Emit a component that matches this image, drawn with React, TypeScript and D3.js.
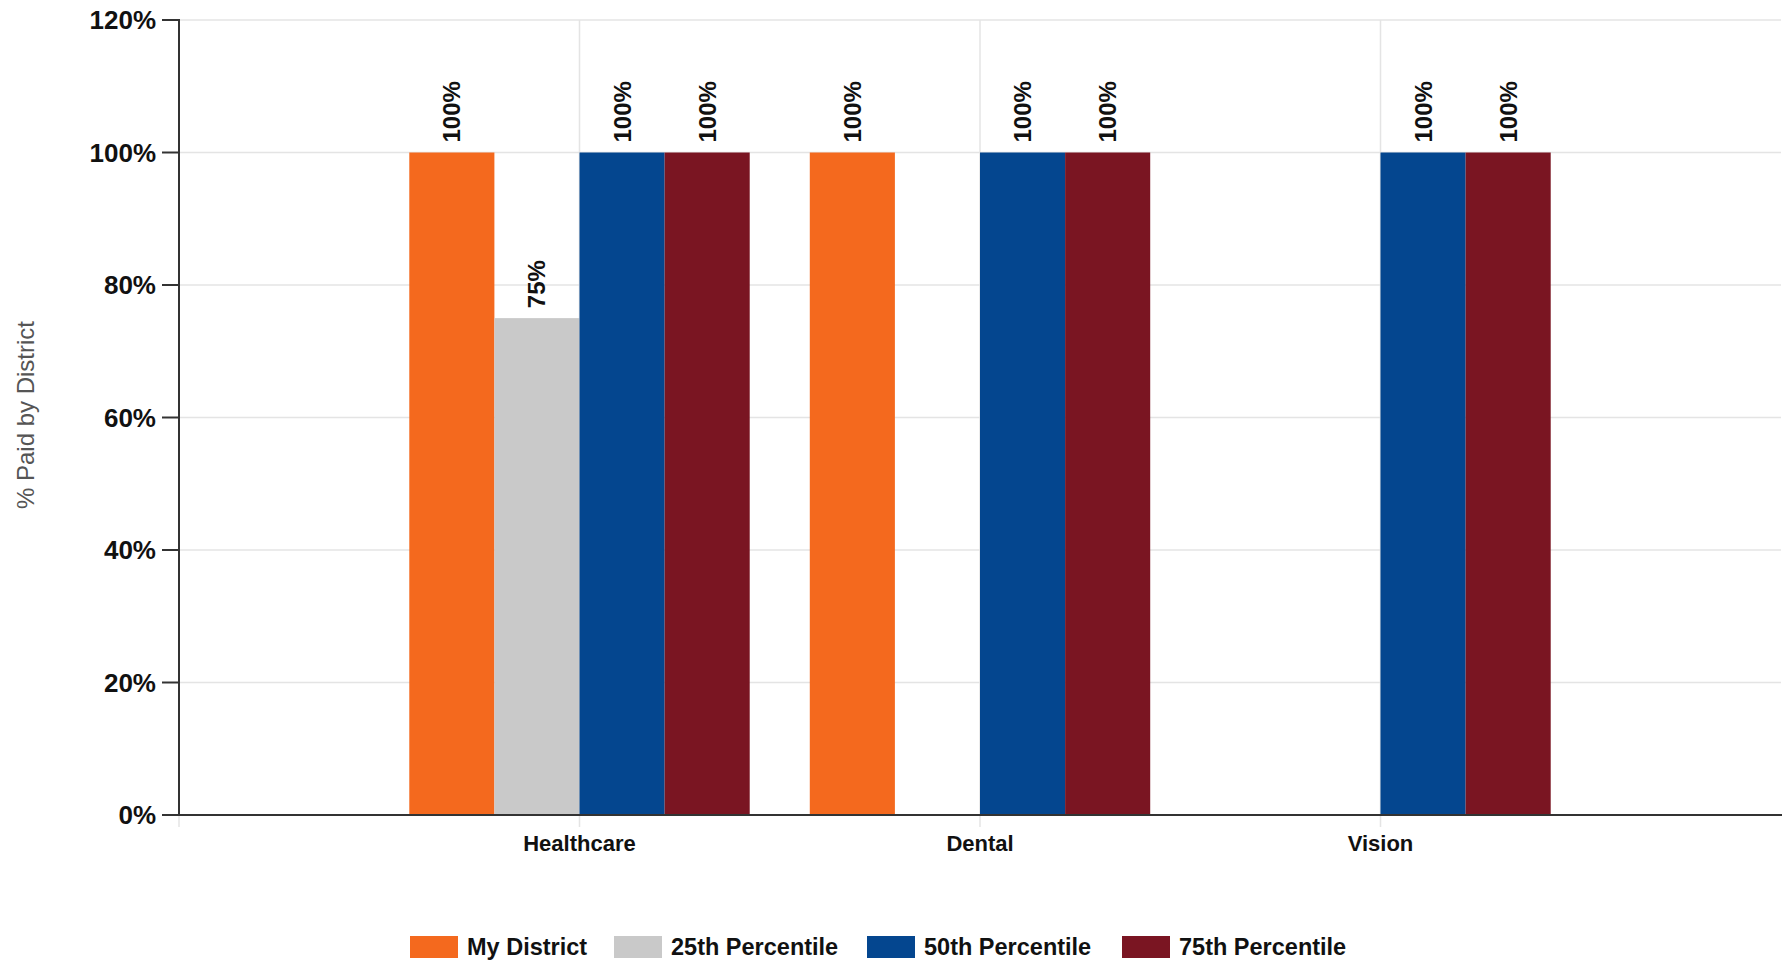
import React from "react";
import * as d3 from "d3";

const categories = ["Healthcare", "Dental", "Vision"];
const seriesNames = ["My District", "25th Percentile", "50th Percentile", "75th Percentile"];
const myDistrict: (number | null)[] = [100, 100, null];
const p25: (number | null)[] = [75, null, null];
const p50: (number | null)[] = [100, 100, 100];
const p75: (number | null)[] = [100, 100, 100];
const yTicks = [0, 20, 40, 60, 80, 100, 120];
const colors = ["#F4691E", "#C9C9C9", "#04468F", "#7A1522"];

const W = 1782;
const H = 963;
const left = 179;
const right = 1781;
const top = 20;
const bottom = 815;
const FONT = "'Liberation Sans', Arial, sans-serif";

export default function App() {
  const seriesValues = [myDistrict, p25, p50, p75];
  const x = d3.scaleLinear().domain([0, 4]).range([left, right]);
  const y = d3.scaleLinear().domain([0, 120]).range([bottom, top]);
  const step = x(1) - x(0);
  const inner = d3
    .scaleBand<string>()
    .domain(seriesNames)
    .range([-step * 0.425, step * 0.425])
    .padding(0);

  const legendX = [410, 614, 867, 1122];

  return (
    <svg
      width={W}
      height={H}
      style={{ position: "absolute", left: 0, top: 0, background: "#fff" }}
      fontFamily={FONT}
    >
      {yTicks.map((t) => (
        <line key={"g" + t} x1={left} x2={right} y1={y(t)} y2={y(t)} stroke="#e4e4e4" strokeWidth={1.5} />
      ))}
      {categories.map((c, i) => (
        <line key={"vg" + c} x1={x(i + 1)} x2={x(i + 1)} y1={top} y2={bottom + 12} stroke="#e4e4e4" strokeWidth={1.5} />
      ))}
      <line x1={left} x2={left} y1={bottom} y2={bottom + 12} stroke="#e4e4e4" strokeWidth={1.5} />

      {seriesValues.map((vals, si) =>
        vals.map((v, ci) => {
          if (v == null) return null;
          const bx = x(ci + 1) + (inner(seriesNames[si]) as number);
          const bw = inner.bandwidth();
          return (
            <rect key={`b${si}-${ci}`} x={bx} y={y(v)} width={bw} height={y(0) - y(v)} fill={colors[si]} />
          );
        })
      )}
      {seriesValues.map((vals, si) =>
        vals.map((v, ci) => {
          if (v == null) return null;
          const cx = x(ci + 1) + (inner(seriesNames[si]) as number) + inner.bandwidth() / 2;
          const ly = y(v) - 10;
          return (
            <text
              key={`l${si}-${ci}`}
              transform={`translate(${cx},${ly}) rotate(-90)`}
              textAnchor="start"
              dominantBaseline="central"
              fontSize={24}
              fontWeight="bold"
              fill="#111"
            >
              {v + "%"}
            </text>
          );
        })
      )}

      <line x1={left} x2={left} y1={top - 1} y2={bottom} stroke="#333" strokeWidth={2} />
      {yTicks.map((t) => (
        <g key={"t" + t}>
          <line x1={left - 17} x2={left} y1={y(t)} y2={y(t)} stroke="#333" strokeWidth={2} />
          <text x={156} y={y(t)} textAnchor="end" dominantBaseline="central" fontSize={26} fontWeight="bold" fill="#111">
            {t + "%"}
          </text>
        </g>
      ))}
      <line x1={left} x2={W} y1={bottom} y2={bottom} stroke="#333" strokeWidth={2} />
      {categories.map((c, i) => (
        <text key={"c" + c} x={x(i + 1)} y={843} textAnchor="middle" dominantBaseline="central" fontSize={22} fontWeight="bold" fill="#111">
          {c}
        </text>
      ))}

      <text
        transform={`translate(25,415) rotate(-90)`}
        textAnchor="middle"
        dominantBaseline="central"
        fontSize={24}
        fill="#555"
      >
        % Paid by District
      </text>

      {seriesNames.map((s, i) => (
        <g key={"lg" + s}>
          <rect x={legendX[i]} y={936} width={48} height={22} fill={colors[i]} />
          <text x={legendX[i] + 57} y={947} dominantBaseline="central" fontSize={23.5} fontWeight="bold" fill="#111">
            {s}
          </text>
        </g>
      ))}
    </svg>
  );
}
